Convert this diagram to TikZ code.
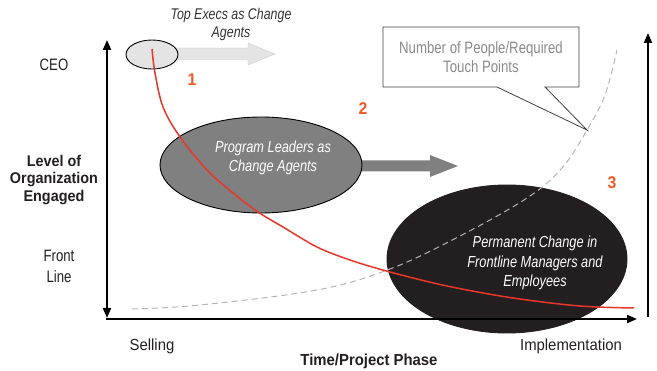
\documentclass[tikz,border=0pt]{standalone}
\usepackage{fontspec}
\setmainfont{Liberation Sans}[FakeStretch=0.8]
\newfontfamily\itfont{Liberation Sans}[FakeStretch=0.8]
\newfontfamily\labfont{Liberation Sans}[FakeStretch=0.93]
\usetikzlibrary{shapes.geometric,arrows.meta}
\definecolor{redline}{HTML}{E8372A}
\definecolor{numred}{HTML}{F05A28}
\definecolor{txt}{HTML}{231F20}
\definecolor{midgray}{HTML}{808080}
\definecolor{lightfill}{HTML}{E4E4E4}
\definecolor{dashgray}{HTML}{B4B4B4}
\definecolor{callgray}{HTML}{8A8A8A}
\tikzset{
  oval/.style={ellipse, draw=black, line width=0.9pt, inner sep=0pt},
  bodytext/.style={font=\fontsize{16.5}{19}\selectfont, align=center, inner sep=0pt},
  phasetext/.style={font=\labfont\fontsize{16}{19}\selectfont, align=center, inner sep=0pt, text=txt},
  itext/.style={font=\itfont\fontsize{16}{19.5}\selectfont\itshape, align=center, inner sep=0pt},
  boldlab/.style={font=\labfont\fontsize{15.5}{17.5}\selectfont\bfseries, align=center, inner sep=0pt, text=txt},
  num/.style={font=\labfont\fontsize{17}{18}\selectfont\bfseries, text=numred, inner sep=0pt},
  axis/.style={line width=2pt, black},
  axtip/.tip={Triangle[length=10pt,width=8pt]}
}
\begin{document}
\begin{tikzpicture}[x=1pt,y=-1pt]
\useasboundingbox (0,0) rectangle (657,371);

% block arrows (drawn before ellipses)
\fill[lightfill, draw=black!20, line width=0.4pt] (170,48) -- (248,48) -- (248,43) -- (275,54) -- (248,65) -- (248,60) -- (170,60) -- cycle;
\fill[midgray] (355,160.5) -- (430,160.5) -- (430,155) -- (458,166) -- (430,177) -- (430,171.5) -- (355,171.5) -- cycle;

% ellipses
\node[oval, fill=lightfill, minimum width=52pt, minimum height=29pt] (e1) at (152,54.5) {};
\node[oval, fill=midgray, minimum width=202pt, minimum height=96pt] (e2) at (261,165) {};
\node[oval, fill=txt, draw=txt, minimum width=240pt, minimum height=148pt] (e3) at (507,259) {};

% texts in ellipses
\node[itext, text=white] (t2) at (273,158) {Program Leaders as\\Change Agents};
\node[itext, text=white] (t3) at (535,263) {Permanent Change in\\Frontline Managers and\\Employees};
\node[itext, text=black!80, font=\itfont\fontsize{15.5}{18}\selectfont\itshape] (t1) at (231,24) {Top Execs as Change\\Agents};

% callout
\draw[black!75, line width=0.8pt, fill=white] (383,27) -- (579,27) -- (579,87) -- (545,87) -- (587,130) -- (497,87) -- (383,87) -- cycle;
\node[bodytext, text=callgray] (ct) at (481,57) {Number of People/Required\\Touch Points};

% dashed curve
\draw[dashgray, line width=1pt, dash pattern=on 6pt off 4pt]
  plot[smooth, tension=0.6] coordinates {(132,309) (200,305) (317,290) (390,269) (460,236) (527,198) (562,168) (587,130) (605,95) (617,50)};

% red curve
\draw[redline, line width=1.5pt]
  plot[smooth, tension=0.55] coordinates {(152,49) (155,73) (163,107) (180,137) (207,170) (233,193) (258,212) (283,227) (317,247) (350,260) (390,272) (447,286) (513,298) (580,306) (634,308)};

% numbers
\node[num] (n1) at (192,80) {1};
\node[num] (n2) at (363,109) {2};
\node[num] (n3) at (612,183) {3};

% axes
\coordinate (ytop) at (107,40);
\coordinate (ybot) at (107,318);
\coordinate (xstart) at (106,319);
\coordinate (xend) at (637,319);
\coordinate (rb) at (648,317);
\coordinate (rt) at (648,33);
\draw[axis, axtip-axtip] (ytop) -- (ybot);
\draw[axis, -axtip] (xstart) -- (xend);
\draw[axis, -axtip] (rb) -- (rt);

% axis labels
\node[bodytext, text=txt] (ceo) at (54,65) {CEO};
\node[boldlab] (lvl) at (54,180) {Level of\\Organization\\Engaged};
\node[bodytext, text=txt, font=\fontsize{16.5}{21}\selectfont] (fl) at (59,266) {Front\\Line};
\node[phasetext] (sell) at (152,346) {Selling};
\node[phasetext] (impl) at (571,346) {Implementation};
\node[boldlab, font=\labfont\fontsize{16}{18}\selectfont\bfseries] (tp) at (369,361) {Time/Project Phase};
\end{tikzpicture}
\end{document}
